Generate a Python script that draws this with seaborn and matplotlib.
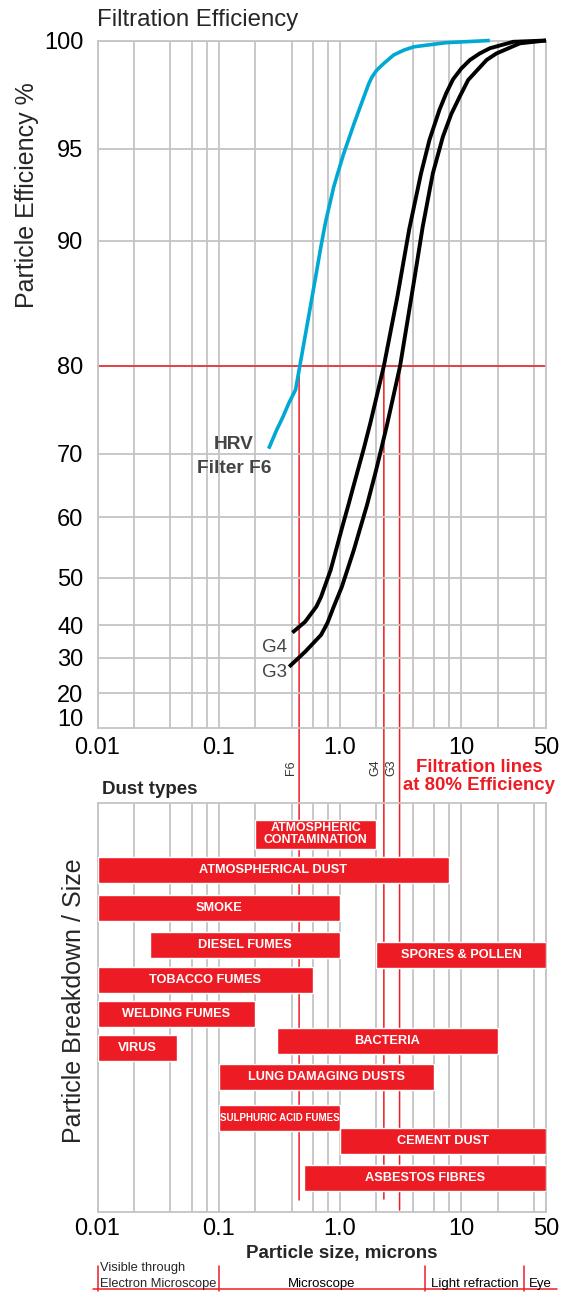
import numpy as np
import pandas as pd
import seaborn as sns
import matplotlib.pyplot as plt
from matplotlib.patches import ConnectionPatch
from matplotlib.ticker import NullLocator
from matplotlib.transforms import blended_transform_factory, offset_copy

# filtration efficiency curves (particle size in microns, efficiency %)
f6_size = [0.258, 0.2996, 0.338, 0.379, 0.43, 0.471, 0.516, 0.583, 0.638, 0.698, 0.76, 0.888,
           0.973, 1.07, 1.296, 1.47, 1.727, 1.84, 2.01, 2.30, 2.77, 3.38, 4.09, 7.52, 17.2]
f6_eff = [70.6, 72.7, 74.2, 75.8, 77.3, 80.24, 82.39, 85.27, 87.42, 89.58, 91.0, 92.92,
          93.8, 94.7, 96.1, 96.94, 98.0, 98.32, 98.63, 98.94, 99.33, 99.56, 99.71, 99.9, 100]
g4_size = [0.405, 0.516, 0.638, 0.698, 0.837, 0.94, 1.035, 1.18, 1.296, 1.43, 1.57, 1.785, 2.30, 2.97,
           3.72, 4.66, 5.47, 6.62, 7.52, 8.55, 10.0, 11.8, 14.2, 17.2, 26.8, 50]
g4_eff = [37.7, 40.7, 43.9, 46.0, 51.3, 55.0, 58.1, 62.1, 65.0, 68.0, 70.6, 73.6, 80, 85.5,
          90.6, 93.65, 95.4, 96.8, 97.56, 98.2, 98.7, 99.1, 99.4, 99.64, 99.94, 100]
g3_size = [0.381, 0.516, 0.698, 0.787, 0.888, 1.035, 1.296, 1.67, 1.965, 2.20, 2.455, 3.13,
           4.10, 4.81, 5.83, 7.06, 8.28, 9.71, 11.4, 13.4, 16.2, 19.5, 30.5, 50]
g3_eff = [27.5, 31.9, 37.0, 40.4, 43.9, 48.1, 54.5, 61.9, 67.1, 70.7, 73.45, 80,
          86.9, 90.75, 93.65, 95.55, 96.6, 97.4, 98.17, 98.6, 99.1, 99.4, 99.87, 100]

# where each filter reaches 80 %
filter_name = ["F6", "G4", "G3"]
filter_size = [0.46, 2.3, 3.1]
filter_line_end = [39.7, 39.6, 40.7]

# dust types: size range in microns and row in the lower panel
dust_name = ["ATMOSPHERIC\nCONTAMINATION", "ATMOSPHERICAL DUST", "SMOKE", "DIESEL FUMES",
             "SPORES & POLLEN", "TOBACCO FUMES", "WELDING FUMES", "VIRUS", "BACTERIA",
             "LUNG DAMAGING DUSTS", "SULPHURIC ACID FUMES", "CEMENT DUST", "ASBESTOS FIBRES"]
dust_start = [0.2, 0.01, 0.01, 0.027, 2, 0.01, 0.01, 0.01, 0.3, 0.1, 0.1, 1, 0.5]
dust_end = [2, 8, 1, 1, 50, 0.6, 0.2, 0.045, 20, 6, 1, 50, 50]
dust_row = [3.14, 6.7, 10.5, 14.2, 15.2, 17.7, 21.1, 24.5, 23.8, 27.4, 31.5, 33.8, 37.5]

# efficiency axis (non linear) and ticks
eff_ticks = [10, 20, 30, 40, 50, 60, 70, 80, 90, 95, 100]
scale_pct = [0, 10, 20, 30, 40, 50, 60, 70, 80, 90, 95, 100]
scale_pos = [0, 11, 35, 70, 103, 150, 211, 274, 362, 487.5, 579.5, 687.5]
size_grid = [0.01, 0.02, 0.04, 0.06, 0.08, 0.1, 0.2, 0.4, 0.6, 0.8, 1, 2, 4, 6, 8, 10, 20, 40, 50]
size_labels = {0.01: "0.01", 0.1: "0.1", 1: "1.0", 10: "10", 50: "50"}

# visibility scale under the chart
vis_bounds = [0.01, 0.1, 5, 33]
vis_names = ["", "Microscope", "Light refraction", "Eye"]
vis_left, vis_right = 0.0092, 62

RED = "#ed1c24"
BLUE = "#00a9d4"
GRID = "#c4c4c4"
DARK = "#444444"

sns.set_theme(style="white")
plt.rcParams["font.family"] = ["Liberation Sans", "DejaVu Sans"]

W, H = 575, 1293
fig = plt.figure(figsize=(W / 100, H / 100), dpi=100)


def fx(px):
    return px / W


def fy(py):
    return 1 - py / H


ax = fig.add_axes([fx(97.5), fy(728), fx(546) - fx(97.5), fy(40.5) - fy(728)])
ax2 = fig.add_axes([fx(97.5), fy(1212), fx(546) - fx(97.5), fy(803) - fy(1212)])


def fwd(v):
    return np.interp(v, scale_pct, scale_pos)


def inv(u):
    return np.interp(u, scale_pos, scale_pct)


for a in (ax, ax2):
    a.set_facecolor("none")
    a.set_xscale("log")
    a.set_xlim(0.01, 50)
    a.set_xticks(size_grid)
    a.set_xticklabels([size_labels.get(v, "") for v in size_grid])
    a.xaxis.set_minor_locator(NullLocator())
    a.grid(True, axis="x", color=GRID, lw=1.3)
    a.tick_params(length=0, labelsize=17, labelcolor="black")
    for s in a.spines.values():
        s.set_color(GRID)
        s.set_linewidth(1.3)

# ---- top panel: efficiency curves
ax.set_yscale("function", functions=(fwd, inv))
ax.set_ylim(0, 100)
ax.set_yticks(eff_ticks)
ax.yaxis.set_minor_locator(NullLocator())
ax.tick_params(axis="y", pad=10)
ax.tick_params(axis="x", pad=6.3)
for v in eff_ticks[1:]:
    ax.axhline(v, color=GRID, lw=1.3, zorder=0.5)
ax.axhline(80, color=RED, lw=1.1, zorder=1.5)

line_kw = dict(estimator=None, sort=False, solid_capstyle="butt", solid_joinstyle="round",
               clip_on=False, zorder=3)
sns.lineplot(x=f6_size, y=f6_eff, ax=ax, color=BLUE, lw=2.6, **line_kw)
sns.lineplot(x=g4_size, y=g4_eff, ax=ax, color="black", lw=2.8, **line_kw)
sns.lineplot(x=g3_size, y=g3_eff, ax=ax, color="black", lw=2.8, **line_kw)
ax.set_xlabel("")
ax.set_ylabel("")

# ---- bottom panel: dust types
ax2.set_ylim(40.9, 0)
ax2.set_yticks([])
ax2.tick_params(axis="x", pad=4.3)
starts = np.array(dust_start)
ends = np.array(dust_end)
heights = [2.87 if "\n" in n else 2.57 for n in dust_name]
ax2.barh(dust_row, ends - starts, left=starts, height=heights, color=RED, zorder=3)
for name, s, e, r in zip(dust_name, dust_start, dust_end, dust_row):
    if name.startswith("SULPHURIC"):
        fs = 7
    elif "\n" in name:
        fs = 8.9
    else:
        fs = 9.2
    ax2.text(np.sqrt(s * e), r, name, color="white", fontweight="bold", fontsize=fs,
             ha="center", va="center", linespacing=1.0, zorder=4)

# filtration lines at 80 %
for x_f, end in zip(filter_size, filter_line_end):
    con = ConnectionPatch(xyA=(x_f, 80), coordsA=ax.transData, xyB=(x_f, end), coordsB=ax2.transData,
                          color=RED, lw=1.1, zorder=-1)
    fig.add_artist(con)

lbl_trans = offset_copy(blended_transform_factory(ax2.transData, fig.transFigure), fig=fig, x=-2.5, units="dots")
for x_f, name in zip(filter_size, filter_name):
    ax2.text(x_f, fy(768), name, transform=lbl_trans, rotation=90, ha="right", va="center",
             fontsize=9, color="#333333", clip_on=False)

# visibility scale
vis_trans = blended_transform_factory(ax2.transData, fig.transFigure)
ax2.plot([vis_left, vis_right], [fy(1289), fy(1289)], color=RED, lw=1.1, transform=vis_trans, clip_on=False)
for b in vis_bounds:
    ax2.plot([b, b], [fy(1266), fy(1291)], color=RED, lw=1.1, transform=vis_trans, clip_on=False)
bounds_next = vis_bounds[1:] + [vis_right]
for name, lo, hi in zip(vis_names, vis_bounds, bounds_next):
    if name:
        ax2.text(np.sqrt(lo * hi), fy(1286.5), name, transform=vis_trans, ha="center", va="baseline",
                 fontsize=9.5, color="black", clip_on=False)
ax2.text(fx(100), fy(1271), "Visible through", transform=fig.transFigure, fontsize=9.3, va="baseline")
ax2.text(fx(100), fy(1286.5), "Electron Microscope", transform=fig.transFigure, fontsize=9.3, va="baseline")

# ---- texts
fig.text(fx(97), fy(26), "Filtration Efficiency", fontsize=17.3, va="baseline", ha="left")
fig.text(fx(27), fy(195), "Particle Efficiency %", fontsize=18, rotation=90, ha="center", va="center")
fig.text(fx(74), fy(1001), "Particle Breakdown / Size", fontsize=18, rotation=90, ha="center", va="center")
fig.text(fx(342), fy(1258), "Particle size, microns", fontsize=13.5, fontweight="bold", ha="center", va="baseline")
fig.text(fx(102), fy(794), "Dust types", fontsize=13.5, fontweight="bold", ha="left", va="baseline")
fig.text(fx(479), fy(776.5), "Filtration lines\nat 80% Efficiency", fontsize=13.4, fontweight="bold",
         color=RED, ha="center", va="center", linespacing=1.05)
fig.text(fx(234), fy(449.3), "HRV", fontsize=13.8, fontweight="bold", color=DARK, ha="center", va="baseline")
fig.text(fx(234), fy(473.3), "Filter F6", fontsize=13.8, fontweight="bold", color=DARK, ha="center", va="baseline")
fig.text(fx(287), fy(651.7), "G4", fontsize=13.5, color=DARK, ha="right", va="baseline")
fig.text(fx(287), fy(676.7), "G3", fontsize=13.5, color=DARK, ha="right", va="baseline")

fig.savefig("out.png", dpi=100)
